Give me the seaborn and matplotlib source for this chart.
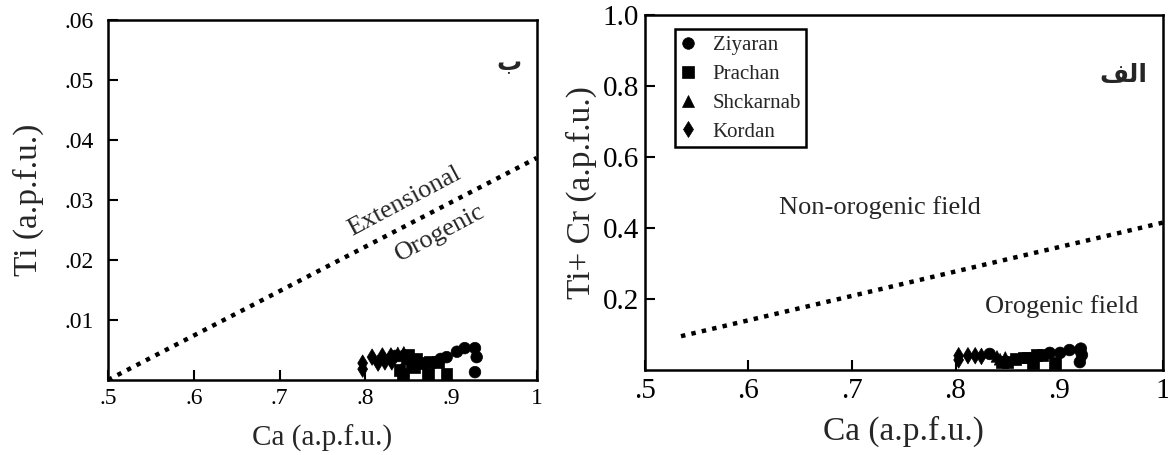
import pandas as pd
import matplotlib.pyplot as plt
import matplotlib.patches as mpatches
import seaborn as sns

sns.set_style("white")
plt.rcParams["font.family"] = ["Liberation Serif", "DejaVu Sans"]

# data
sites = ["Ziyaran", "Prachan", "Shckarnab", "Kordan"]
markers = {"Ziyaran": "o", "Prachan": "s", "Shckarnab": "^", "Kordan": "d"}

# left panel: Ca vs Ti
site_b = (["Kordan"] * 8 + ["Shckarnab"] * 4 + ["Ziyaran"] * 8 + ["Prachan"] * 11)
ca_b = [0.797, 0.797, 0.808, 0.815, 0.820, 0.823, 0.830, 0.831,
        0.838, 0.842, 0.845, 0.848,
        0.835, 0.895, 0.907, 0.916, 0.928, 0.930, 0.928, 0.888,
        0.850, 0.854, 0.860, 0.866, 0.875, 0.840, 0.844, 0.873, 0.895, 0.885, 0.857]
ti_b = [0.0028, 0.0018, 0.0038, 0.0028, 0.0040, 0.0030, 0.0040, 0.0030,
        0.0045, 0.0040, 0.0046, 0.0035,
        0.0040, 0.0038, 0.0047, 0.0053, 0.0053, 0.0038, 0.0013, 0.0035,
        0.0042, 0.0030, 0.0035, 0.0028, 0.0030, 0.0017, 0.0010, 0.0010, 0.0010, 0.0030, 0.0022]

# right panel: Ca vs Ti+Cr
site_a = (["Kordan"] * 5 + ["Ziyaran"] * 8 + ["Shckarnab"] * 3 + ["Prachan"] * 9)
ca_a = [0.803, 0.803, 0.812, 0.819, 0.825,
        0.833, 0.891, 0.901, 0.910, 0.920, 0.922, 0.920, 0.921,
        0.840, 0.843, 0.848,
        0.850, 0.858, 0.866, 0.875, 0.878, 0.884, 0.896, 0.870, 0.845]
ticr_a = [0.028, 0.040, 0.040, 0.040, 0.038,
          0.045, 0.048, 0.048, 0.056, 0.056, 0.042, 0.022, 0.060,
          0.038, 0.030, 0.035,
          0.022, 0.030, 0.035, 0.020, 0.042, 0.042, 0.020, 0.035, 0.022]

# boundary lines
line_b_x = [0.5, 1.0]
line_b_y = [0.0, 0.037]
line_a_x = [0.535, 1.0]
line_a_y = [0.095, 0.415]

df_b = pd.DataFrame({"Ca": ca_b, "Ti": ti_b, "site": site_b})
df_a = pd.DataFrame({"Ca": ca_a, "TiCr": ticr_a, "site": site_a})

fig = plt.figure(figsize=(11.68, 4.55), dpi=100)
ax1 = fig.add_axes([0.0925, 0.165, 0.367, 0.791])
ax2 = fig.add_axes([0.552, 0.187, 0.4435, 0.78])


def style_axes(ax, size, pady):
    for s in ["top", "right", "left", "bottom"]:
        ax.spines[s].set_visible(True)
        ax.spines[s].set_color("black")
        ax.spines[s].set_linewidth(1.8)
    ax.tick_params(direction="in", length=7, width=1.5, labelsize=size,
                   colors="black")
    ax.tick_params(axis="x", pad=6)
    ax.tick_params(axis="y", pad=pady)
    ax.tick_params(top=False, right=False, bottom=True, left=True)


dots = dict(color="black", linewidth=3.2, linestyle=(0, (1, 1.4)),
            dash_capstyle="butt")

# left panel
sns.scatterplot(data=df_b, x="Ca", y="Ti", style="site", markers=markers,
                style_order=sites, color="black", s=70, edgecolor="black",
                linewidth=0.5, ax=ax1, legend=False, zorder=3, clip_on=False)
ax1.plot(line_b_x, line_b_y, **dots)
ax1.set_xlim(0.5, 1.0)
ax1.set_ylim(0, 0.06)
ax1.set_xticks([0.5, 0.6, 0.7, 0.8, 0.9, 1.0])
ax1.set_xticklabels([".5", ".6", ".7", ".8", ".9", "1"])
ax1.set_yticks([0.01, 0.02, 0.03, 0.04, 0.05, 0.06])
ax1.set_yticklabels([".01", ".02", ".03", ".04", ".05", ".06"])
ax1.set_xlabel("Ca (a.p.f.u.)", fontsize=21)
ax1.set_ylabel("Ti (a.p.f.u.)", fontsize=24)
ax1.xaxis.set_label_coords(0.5, -0.125)
ax1.yaxis.set_label_coords(-0.15, 0.5)
style_axes(ax1, 17, 10)
ax1.text(0.846, 0.0297, "Extensional", rotation=28, fontsize=19,
         ha="center", va="center")
ax1.text(0.887, 0.0245, "Orogenic", rotation=28, fontsize=19,
         ha="center", va="center")
ax1.text(0.968, 0.0528, "ب", fontsize=18, fontweight="bold",
         family=["DejaVu Sans"], ha="center", va="center")

# right panel
sns.scatterplot(data=df_a, x="Ca", y="TiCr", style="site", markers=markers,
                style_order=sites, color="black", s=70, edgecolor="black",
                linewidth=0.5, ax=ax2, zorder=3, clip_on=False)
ax2.plot(line_a_x, line_a_y, **dots)
ax2.set_xlim(0.5, 1.0)
ax2.set_ylim(0, 1.0)
ax2.set_xticks([0.5, 0.6, 0.7, 0.8, 0.9, 1.0])
ax2.set_xticklabels([".5", ".6", ".7", ".8", ".9", "1"])
ax2.set_yticks([0.2, 0.4, 0.6, 0.8, 1.0])
ax2.set_yticklabels(["0.2", "0.4", "0.6", "0.8", "1.0"])
ax2.set_xlabel("Ca (a.p.f.u.)", fontsize=24)
ax2.set_ylabel("Ti+ Cr (a.p.f.u.)", fontsize=24)
ax2.xaxis.set_label_coords(0.5, -0.13)
ax2.yaxis.set_label_coords(-0.093, 0.5)
style_axes(ax2, 21, 4)
ax2.text(0.727, 0.459, "Non-orogenic field", fontsize=19,
         ha="center", va="center")
ax2.text(0.902, 0.178, "Orogenic field", fontsize=19,
         ha="center", va="center")
# "الف" written right-to-left with joined presentation forms
ax2.text(0.962, 0.83, "\ufed2\ufedf\ufe8d", fontsize=18, fontweight="bold",
         family=["DejaVu Sans"], ha="center", va="center")

leg = ax2.legend(loc="upper left", bbox_to_anchor=(0.058, 0.95),
                 borderaxespad=0, fontsize=15, frameon=False,
                 labelspacing=0.44, handlelength=1.0, handletextpad=0.67,
                 borderpad=0.15)
leg.set_title(None)
ax2.add_patch(mpatches.Rectangle((0.058, 0.628), 0.253, 0.333,
                                 transform=ax2.transAxes, fill=False,
                                 edgecolor="black", linewidth=1.8, zorder=5))

fig.savefig("out.png", dpi=100)
